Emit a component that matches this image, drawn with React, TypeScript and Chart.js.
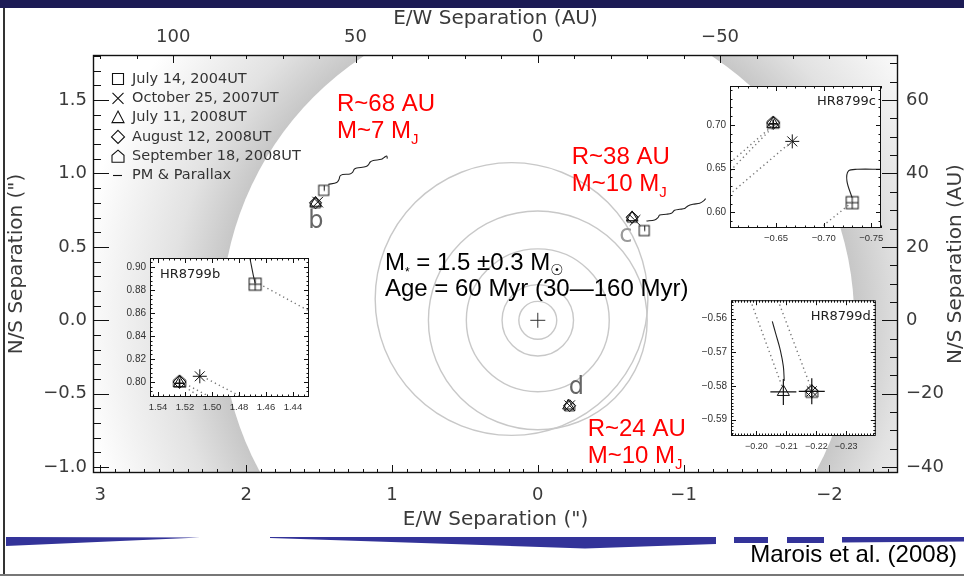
import React, { useEffect, useRef } from 'react';
import { Chart, registerables } from 'chart.js';

Chart.register(...registerables);

// ======================= DATA =======================
const AU_PER_ARCSEC = 40;

const epochLabels = ['July 14, 2004UT', 'October 25, 2007UT', 'July 11, 2008UT', 'August 12, 2008UT', 'September 18, 2008UT'];
const pmLabel = 'PM & Parallax';

const titleTop = 'E/W Separation (AU)';
const titleBottom = 'E/W Separation (")';
const titleLeft = 'N/S Separation (")';
const titleRight = 'N/S Separation (AU)';

// Planet offsets from HR 8799 per epoch (arcsec): x = E/W (east positive), y = N/S
const bX = [1.468, 1.509, 1.524, 1.524, 1.524];
const bY = [0.885, 0.805, 0.799, 0.800, 0.801];
const cX = [-0.730, -0.667, -0.647, -0.647, -0.647];
const cY = [0.611, 0.681, 0.701, 0.702, 0.703];
const dX = [NaN, -0.2185, -0.209, -0.2185, -0.2185];
const dY = [NaN, -0.5816, -0.5818, -0.5816, -0.5816];

// Background-star proper motion + parallax tracks (main panel)
const bPmX = [1.436, 1.379, 1.363, 1.356, 1.338, 1.288, 1.269, 1.258, 1.242, 1.178, 1.160, 1.149, 1.128, 1.073, 1.055, 1.036, 1.032];
const bPmY = [0.926, 0.938, 0.960, 0.983, 0.993, 0.997, 1.010, 1.029, 1.037, 1.047, 1.061, 1.078, 1.088, 1.097, 1.108, 1.119, 1.102];
const cPmX = [-0.745, -0.801, -0.824, -0.836, -0.881, -0.916, -0.938, -0.973, -1.007, -1.029, -1.064, -1.110, -1.137, -1.151];
const cPmY = [0.676, 0.683, 0.699, 0.717, 0.722, 0.729, 0.749, 0.756, 0.761, 0.779, 0.790, 0.797, 0.813, 0.829];

// Orbit circles (arcsec)
const orbitCenterX = [0, 0, 0, 0, 0.18];
const orbitCenterY = [0, 0, 0, 0, 0.145];
const orbitRadius = [0.13, 0.245, 0.49, 0.75, 0.935];
const maskRadius = 2.17;

// Main axis ranges (arcsec)
const mainXRange = [-2.47, 3.05];
const mainYRange = [-1.04, 1.807];

// Annotations
const sepTexts = ['R~68 AU', 'R~38 AU', 'R~24 AU'];
const massTexts = ['M~7 M', 'M~10 M', 'M~10 M'];
const annX = [1.377, -0.233, -0.342];
const sepY = [1.424, 1.063, -0.790];
const massY = [1.240, 0.879, -0.974];
const planetNames = ['b', 'c', 'd'];
const nameX = [1.521, -0.603, -0.265];
const nameY = [0.674, 0.579, -0.458];
const starMassText = ' = 1.5 \u00b10.3 M';
const ageText = 'Age = 60 Myr (30\u2014160 Myr)';
const starTextX = 1.048;
const starTextY = [0.341, 0.163];

// ---- Inset HR8799b
const bInsetXRange = [1.4281, 1.5459];
const bInsetYRange = [0.787, 0.9078];
const bTrackX = [1.4719, 1.4706, 1.4694, 1.4680];
const bTrackY = [0.9078, 0.9000, 0.8930, 0.8860];
const bDot1X = [1.4620, 1.4290]; const bDot1Y = [0.8834, 0.8624];
const bDot2X = [1.5039, 1.4780]; const bDot2Y = [0.8029, 0.7871];
const bDot3X = [1.5200, 1.5015]; const bDot3Y = [0.7986, 0.7871];
const bDot4X = [1.5200, 1.5089]; const bDot4Y = [0.7957, 0.7871];

// ---- Inset HR8799c
const cInsetXRange = [-0.7602, -0.6016];
const cInsetYRange = [0.582, 0.7443];
const cTrackX = [-0.7297, -0.7244, -0.7261, -0.7350, -0.7600];
const cTrackY = [0.6170, 0.6359, 0.6472, 0.6491, 0.6491];
const cDot1X = [-0.6455, -0.6016]; const cDot1Y = [0.6981, 0.6566];
const cDot2X = [-0.6490, -0.6016]; const cDot2Y = [0.7000, 0.6472];
const cDot3X = [-0.6665, -0.6016]; const cDot3Y = [0.6810, 0.6208];
const cDot4X = [-0.7297, -0.6998]; const cDot4Y = [0.6113, 0.5850];

// ---- Inset HR8799d
const dInsetXRange = [-0.2399, -0.1915];
const dInsetYRange = [-0.5949, -0.5545];
const dTrackX = [-0.2053, -0.2065, -0.2080, -0.2090, -0.2093];
const dTrackY = [-0.5608, -0.5646, -0.5694, -0.5742, -0.5785];
const dDot1X = [-0.1980, -0.2087]; const dDot1Y = [-0.5545, -0.5805];
const dDot2X = [-0.2072, -0.2180]; const dDot2Y = [-0.5545, -0.5800];

// ======================= HELPERS =======================
const AXIS_FONT = "'DejaVu Sans', sans-serif";
const ARIAL = "'Liberation Sans', Arial, sans-serif";

type Pt = { x: number; y: number };
const pts = (xs: number[], ys: number[]): Pt[] =>
  xs.map((x, i) => ({ x, y: ys[i] })).filter((p) => Number.isFinite(p.x) && Number.isFinite(p.y));

const fmtMinus = (s: string) => s.replace('-', '\u2212');

function pathHouse(g: CanvasRenderingContext2D, cx: number, cy: number, s: number) {
  const h = s / 2;
  g.beginPath();
  g.moveTo(cx, cy - h);
  g.lineTo(cx + h, cy - h * 0.15);
  g.lineTo(cx + h, cy + h);
  g.lineTo(cx - h, cy + h);
  g.lineTo(cx - h, cy - h * 0.15);
  g.closePath();
}

function makeIcon(size: number, draw: (g: CanvasRenderingContext2D, c: number) => void) {
  const cv = document.createElement('canvas');
  cv.width = size;
  cv.height = size;
  const g = cv.getContext('2d')!;
  g.strokeStyle = '#111';
  g.lineWidth = 1;
  draw(g, size / 2);
  return cv;
}
const houseIcon = (s: number) => makeIcon(s + 4, (g, c) => { pathHouse(g, c, c, s); g.stroke(); });
const squareTickIcon = (s: number) => makeIcon(s + 4, (g, c) => {
  g.strokeRect(c - s / 2, c - s / 2, s, s);
  g.beginPath(); g.moveTo(c + 0.5, c - s / 2); g.lineTo(c + 0.5, c + 0.5); g.stroke();
});
const squareCrossIcon = (s: number) => makeIcon(s + 4, (g, c) => {
  g.strokeRect(c - s / 2, c - s / 2, s, s);
  g.beginPath(); g.moveTo(c, c - s / 2); g.lineTo(c, c + s / 2); g.moveTo(c - s / 2, c); g.lineTo(c + s / 2, c); g.stroke();
});

function markerSet(xs: number[], ys: number[], styles: any[], radii: number[], width = 1) {
  return styles.map((st, i) => ({
    data: pts([xs[i]], [ys[i]]),
    pointStyle: st,
    pointRadius: radii[i],
    borderColor: '#111',
    backgroundColor: 'rgba(0,0,0,0)',
    borderWidth: width,
    showLine: false,
  }));
}

function lineDs(xs: number[], ys: number[], dotted: boolean, tension = 0.35) {
  return {
    data: pts(xs, ys),
    showLine: true,
    pointRadius: 0,
    borderColor: dotted ? '#777' : '#222',
    borderWidth: dotted ? 1.4 : 1.1,
    borderDash: dotted ? [1.3, 3.2] : [],
    tension,
  };
}

function crossDs(xs: number[], ys: number[], r: number, width = 1) {
  return { data: pts(xs, ys), pointStyle: 'cross', pointRadius: r, borderColor: '#111', borderWidth: width, showLine: false };
}

type TickSpec = { id: string; major: number; minor: number; majLen: number; minLen: number };
function tickPlugin(specs: TickSpec[], both: boolean) {
  return {
    id: 'innerTicks',
    afterDraw(chart: any) {
      const { ctx, chartArea: a } = chart;
      ctx.save();
      ctx.strokeStyle = '#111';
      ctx.lineWidth = 1;
      for (const s of specs) {
        const sc = chart.scales[s.id];
        if (!sc) continue;
        const lo = Math.min(sc.min, sc.max), hi = Math.max(sc.min, sc.max);
        const k0 = Math.ceil(lo / s.minor - 1e-9), k1 = Math.floor(hi / s.minor + 1e-9);
        ctx.beginPath();
        for (let k = k0; k <= k1; k++) {
          const v = k * s.minor;
          const r = v / s.major;
          const len = Math.abs(r - Math.round(r)) < 1e-6 ? s.majLen : s.minLen;
          const p = Math.round(sc.getPixelForValue(v)) + 0.5;
          if (sc.isHorizontal()) {
            const top = sc.position === 'top';
            if (!top || both) { ctx.moveTo(p, a.bottom); ctx.lineTo(p, a.bottom - len); }
            if (top || both) { ctx.moveTo(p, a.top); ctx.lineTo(p, a.top + len); }
          } else {
            const right = sc.position === 'right';
            if (!right || both) { ctx.moveTo(a.left, p); ctx.lineTo(a.left + len, p); }
            if (right || both) { ctx.moveTo(a.right, p); ctx.lineTo(a.right - len, p); }
          }
        }
        ctx.stroke();
      }
      ctx.restore();
    },
  };
}

function framePlugin(width: number, fillWhite: boolean) {
  return {
    id: 'frame',
    beforeDatasetsDraw(chart: any) {
      if (!fillWhite) return;
      const { ctx, chartArea: a } = chart;
      ctx.save();
      ctx.fillStyle = '#fff';
      ctx.fillRect(a.left, a.top, a.right - a.left, a.bottom - a.top);
      ctx.restore();
    },
    afterDraw(chart: any) {
      const { ctx, chartArea: a } = chart;
      ctx.save();
      ctx.strokeStyle = '#111';
      ctx.lineWidth = width;
      ctx.strokeRect(a.left + 0.5, a.top + 0.5, a.right - a.left - 1, a.bottom - a.top - 1);
      ctx.restore();
    },
  };
}

function drawParts(ctx: CanvasRenderingContext2D, x: number, y: number, parts: { t: string; font: string; dy: number }[]) {
  let cx = x;
  for (const p of parts) {
    ctx.font = p.font;
    ctx.fillText(p.t, cx, y + p.dy);
    cx += ctx.measureText(p.t).width;
  }
}

// ======================= MAIN CHART =======================
function mainChart(canvas: HTMLCanvasElement) {
  const mainStyles = [squareTickIcon(10), 'crossRot', 'triangle', 'rectRot', houseIcon(10)];
  const mainRadii = [5, 7.5, 6.5, 6, 5];
  const datasets: any[] = [
    ...mainStyles.map((st, i) => ({
      label: epochLabels[i],
      data: pts([bX[i], cX[i], dX[i]], [bY[i], cY[i], dY[i]]),
      pointStyle: st,
      pointRadius: mainRadii[i],
      borderColor: '#111',
      backgroundColor: 'rgba(0,0,0,0)',
      borderWidth: 1,
      showLine: false,
    })),
    { label: pmLabel, ...lineDs(bPmX, bPmY, false, 0.3) },
    { label: pmLabel, ...lineDs(cPmX, cPmY, false, 0.3) },
    { label: 'HR 8799', data: [{ x: 0, y: 0 }], pointStyle: 'cross', pointRadius: 7.5, borderColor: '#333', borderWidth: 1, showLine: false },
  ];

  const tickFont = { family: AXIS_FONT, size: 18 };
  const common = {
    type: 'linear',
    grid: { display: false, drawTicks: false },
    border: { display: false },
  };

  const bgPlugin = {
    id: 'bg',
    beforeDatasetsDraw(chart: any) {
      const { ctx, chartArea: a } = chart;
      const X = chart.scales.x, Y = chart.scales.y;
      const cx = X.getPixelForValue(0), cy = Y.getPixelForValue(0);
      const ppa = Math.abs(X.getPixelForValue(1) - cx);
      const rIn = maskRadius * ppa, rOut = (maskRadius + 1.0) * ppa;
      ctx.save();
      ctx.beginPath();
      ctx.rect(a.left, a.top, a.right - a.left, a.bottom - a.top);
      ctx.clip();
      const g = ctx.createRadialGradient(cx, cy, rIn, cx, cy, rOut);
      g.addColorStop(0, 'rgb(199,199,199)');
      g.addColorStop(0.35, 'rgb(226,226,226)');
      g.addColorStop(1, 'rgb(255,255,255)');
      ctx.fillStyle = g;
      ctx.fillRect(a.left, a.top, a.right - a.left, a.bottom - a.top);
      ctx.fillStyle = '#fff';
      ctx.beginPath();
      ctx.arc(cx, cy, rIn, 0, Math.PI * 2);
      ctx.fill();
      ctx.strokeStyle = '#c8c8c8';
      ctx.lineWidth = 1.4;
      orbitRadius.forEach((r, i) => {
        ctx.beginPath();
        ctx.arc(X.getPixelForValue(orbitCenterX[i]), Y.getPixelForValue(orbitCenterY[i]), r * ppa, 0, Math.PI * 2);
        ctx.stroke();
      });
      ctx.restore();
    },
  };

  const textPlugin = {
    id: 'texts',
    afterDatasetsDraw(chart: any) {
      const { ctx } = chart;
      const X = chart.scales.x, Y = chart.scales.y;
      ctx.save();
      ctx.textAlign = 'left';
      ctx.textBaseline = 'alphabetic';
      ctx.fillStyle = '#ff0000';
      for (let i = 0; i < sepTexts.length; i++) {
        const px = X.getPixelForValue(annX[i]);
        ctx.font = `24px ${ARIAL}`;
        ctx.fillText(sepTexts[i], px, Y.getPixelForValue(sepY[i]));
        drawParts(ctx, px, Y.getPixelForValue(massY[i]), [
          { t: massTexts[i], font: `24px ${ARIAL}`, dy: 0 },
          { t: 'J', font: `15px ${ARIAL}`, dy: 6 },
        ]);
      }
      ctx.fillStyle = '#000';
      const sx = X.getPixelForValue(starTextX);
      drawParts(ctx, sx, Y.getPixelForValue(starTextY[0]), [
        { t: 'M', font: `24px ${ARIAL}`, dy: 0 },
        { t: '*', font: `12px ${ARIAL}`, dy: 6 },
        { t: starMassText, font: `24px ${ARIAL}`, dy: 0 },
        { t: '\u2609', font: `15px ${AXIS_FONT}`, dy: 5 },
      ]);
      ctx.font = `24px ${ARIAL}`;
      ctx.fillText(ageText, sx, Y.getPixelForValue(starTextY[1]));
      ctx.textAlign = 'center';
      ctx.textBaseline = 'middle';
      ctx.font = `24px ${AXIS_FONT}`;
      const nameColors = ['#666', '#9a9a9a', '#666'];
      planetNames.forEach((n, i) => {
        ctx.fillStyle = nameColors[i];
        ctx.fillText(n, X.getPixelForValue(nameX[i]), Y.getPixelForValue(nameY[i]));
      });
      ctx.restore();
    },
  };

  const titlePlugin = {
    id: 'titles',
    afterDraw(chart: any) {
      const { ctx, chartArea: a } = chart;
      const mx = (a.left + a.right) / 2, my = (a.top + a.bottom) / 2;
      const setup = () => {
        ctx.fillStyle = '#3a3a3a';
        ctx.font = `20px ${AXIS_FONT}`;
        ctx.textAlign = 'center';
        ctx.textBaseline = 'middle';
      };
      ctx.save();
      setup();
      ctx.fillText(titleTop, mx, a.top - 36);
      ctx.fillText(titleBottom, mx, a.bottom + 47);
      ctx.translate(17, my);
      ctx.rotate(-Math.PI / 2);
      ctx.fillText(titleLeft, 0, 0);
      ctx.restore();
      ctx.save();
      setup();
      ctx.translate(956, my);
      ctx.rotate(-Math.PI / 2);
      ctx.fillText(titleRight, 0, 0);
      ctx.restore();
    },
  };

  const legendPlugin = {
    id: 'hrLegend',
    afterDraw(chart: any) {
      const { ctx, chartArea: a } = chart;
      const sx = a.left + 25, tx = a.left + 39, y0 = a.top + 24, dy = 19.3;
      ctx.save();
      ctx.strokeStyle = '#111';
      ctx.lineWidth = 1.1;
      const labels = [...epochLabels, pmLabel];
      labels.forEach((lab, i) => {
        const y = y0 + i * dy;
        ctx.beginPath();
        if (i === 0) ctx.rect(sx - 5.5, y - 5.5, 11, 11);
        if (i === 1) { ctx.moveTo(sx - 5.5, y - 5.5); ctx.lineTo(sx + 5.5, y + 5.5); ctx.moveTo(sx + 5.5, y - 5.5); ctx.lineTo(sx - 5.5, y + 5.5); }
        if (i === 2) { ctx.moveTo(sx, y - 6.5); ctx.lineTo(sx + 6, y + 5); ctx.lineTo(sx - 6, y + 5); ctx.closePath(); }
        if (i === 3) { ctx.moveTo(sx, y - 6.5); ctx.lineTo(sx + 6.5, y); ctx.lineTo(sx, y + 6.5); ctx.lineTo(sx - 6.5, y); ctx.closePath(); }
        if (i === 4) pathHouse(ctx, sx, y, 12);
        if (i === 5) { ctx.moveTo(sx - 5, y); ctx.lineTo(sx + 4, y); }
        ctx.stroke();
        ctx.fillStyle = '#333';
        ctx.font = `14.5px ${AXIS_FONT}`;
        ctx.textAlign = 'left';
        ctx.textBaseline = 'middle';
        ctx.fillText(lab, tx, y);
      });
      ctx.restore();
    },
  };

  return new Chart(canvas, {
    type: 'scatter',
    data: { datasets },
    options: {
      responsive: false,
      animation: false,
      devicePixelRatio: 1,
      events: [],
      layout: { padding: 0 },
      plugins: { legend: { display: false }, tooltip: { enabled: false } },
      scales: {
        x: {
          ...common, position: 'bottom', min: mainXRange[0], max: mainXRange[1], reverse: true,
          ticks: { stepSize: 1, includeBounds: false, autoSkip: false, maxRotation: 0, padding: 12, color: '#3a3a3a', font: tickFont, callback: (v: any) => fmtMinus(String(v)) },
          afterFit: (s: any) => { s.height = 103; },
        },
        xTop: {
          ...common, position: 'top', min: mainXRange[0] * AU_PER_ARCSEC, max: mainXRange[1] * AU_PER_ARCSEC, reverse: true,
          ticks: { stepSize: 50, includeBounds: false, autoSkip: false, maxRotation: 0, padding: 7, color: '#3a3a3a', font: tickFont, callback: (v: any) => fmtMinus(String(v)) },
          afterFit: (s: any) => { s.height = 55; },
        },
        y: {
          ...common, position: 'left', min: mainYRange[0], max: mainYRange[1],
          ticks: { stepSize: 0.5, includeBounds: false, autoSkip: false, padding: 6, color: '#3a3a3a', font: tickFont, callback: (v: any) => fmtMinus(Number(v).toFixed(1)) },
          afterFit: (s: any) => { s.width = 93; },
        },
        yRight: {
          ...common, position: 'right', min: mainYRange[0] * AU_PER_ARCSEC, max: mainYRange[1] * AU_PER_ARCSEC,
          ticks: { stepSize: 20, includeBounds: false, autoSkip: false, padding: 8, color: '#3a3a3a', font: tickFont, callback: (v: any) => fmtMinus(String(v)) },
          afterFit: (s: any) => { s.width = 66; },
        },
      },
    } as any,
    plugins: [
      bgPlugin,
      textPlugin,
      tickPlugin([
        { id: 'x', major: 1, minor: 0.1, majLen: 8, minLen: 4 },
        { id: 'xTop', major: 50, minor: 10, majLen: 8, minLen: 4 },
        { id: 'y', major: 0.5, minor: 0.1, majLen: 16, minLen: 8 },
        { id: 'yRight', major: 20, minor: 5, majLen: 16, minLen: 8 },
      ], false),
      framePlugin(1.4, false),
      titlePlugin,
      legendPlugin,
    ] as any,
  });
}

// ======================= INSETS =======================
type InsetOpts = {
  xr: number[]; yr: number[]; xStep: number; yStep: number; xMinor: number; yMinor: number;
  leftW: number; bottomH: number; padTop: number; padRight: number; xPad: number; xFont: number;
  title: string; titleRight: boolean; datasets: any[];
};

function insetChart(canvas: HTMLCanvasElement, o: InsetOpts) {
  const fy = { family: ARIAL, size: 10 };
  const fx = { family: ARIAL, size: o.xFont };
  const titlePl = {
    id: 'insetTitle',
    afterDraw(chart: any) {
      const { ctx, chartArea: a } = chart;
      ctx.save();
      ctx.fillStyle = '#222';
      ctx.font = `13px ${AXIS_FONT}`;
      ctx.textBaseline = 'middle';
      if (o.titleRight) { ctx.textAlign = 'right'; ctx.fillText(o.title, a.right - 5, a.top + 16); }
      else { ctx.textAlign = 'left'; ctx.fillText(o.title, a.left + 10, a.top + 17); }
      ctx.restore();
    },
  };
  return new Chart(canvas, {
    type: 'scatter',
    data: { datasets: o.datasets },
    options: {
      responsive: false,
      animation: false,
      devicePixelRatio: 1,
      events: [],
      layout: { padding: { top: o.padTop, right: o.padRight, left: 0, bottom: 0 } },
      plugins: { legend: { display: false }, tooltip: { enabled: false } },
      scales: {
        x: {
          type: 'linear', min: o.xr[0], max: o.xr[1], reverse: true,
          grid: { display: false, drawTicks: false }, border: { display: false },
          ticks: { stepSize: o.xStep, includeBounds: false, autoSkip: false, maxRotation: 0, padding: o.xPad, color: '#333', font: fx, callback: (v: any) => fmtMinus(Number(v).toFixed(2)) },
          afterFit: (s: any) => { s.height = o.bottomH; },
        },
        y: {
          type: 'linear', min: o.yr[0], max: o.yr[1],
          grid: { display: false, drawTicks: false }, border: { display: false },
          ticks: { stepSize: o.yStep, includeBounds: false, autoSkip: false, padding: 4, color: '#333', font: fy, callback: (v: any) => fmtMinus(Number(v).toFixed(2)) },
          afterFit: (s: any) => { s.width = o.leftW; },
        },
      },
    } as any,
    plugins: [
      framePlugin(1, true),
      tickPlugin([
        { id: 'x', major: o.xStep, minor: o.xMinor, majLen: 5, minLen: 2.5 },
        { id: 'y', major: o.yStep, minor: o.yMinor, majLen: 5, minLen: 2.5 },
      ], true),
      titlePl,
    ] as any,
  });
}

export default function App() {
  const mainRef = useRef<HTMLCanvasElement>(null);
  const bRef = useRef<HTMLCanvasElement>(null);
  const cRef = useRef<HTMLCanvasElement>(null);
  const dRef = useRef<HTMLCanvasElement>(null);

  useEffect(() => {
    const insetStyles = () => [squareCrossIcon(12), 'star', 'triangle', 'rectRot', houseIcon(12)];
    const insetRadii = [6, 7, 7, 6.5, 6];
    const charts: Chart[] = [];
    charts.push(mainChart(mainRef.current!));
    charts.push(insetChart(bRef.current!, {
      xr: bInsetXRange, yr: bInsetYRange, xStep: 0.02, yStep: 0.02, xMinor: 0.004, yMinor: 0.004,
      leftW: 40, bottomH: 26, padTop: 9, padRight: 11, xPad: 5, xFont: 9.5, title: 'HR8799b', titleRight: false,
      datasets: [
        lineDs(bTrackX, bTrackY, false),
        lineDs(bDot1X, bDot1Y, true), lineDs(bDot2X, bDot2Y, true), lineDs(bDot3X, bDot3Y, true), lineDs(bDot4X, bDot4Y, true),
        ...markerSet(bX, bY, insetStyles(), insetRadii),
        crossDs([bX[2]], [bY[2]], 4.5, 1.6),
      ],
    }));
    charts.push(insetChart(cRef.current!, {
      xr: cInsetXRange, yr: cInsetYRange, xStep: 0.05, yStep: 0.05, xMinor: 0.01, yMinor: 0.01,
      leftW: 40, bottomH: 20, padTop: 9, padRight: 9, xPad: 5, xFont: 9.5, title: 'HR8799c', titleRight: true,
      datasets: [
        lineDs(cTrackX, cTrackY, false),
        lineDs(cDot1X, cDot1Y, true), lineDs(cDot2X, cDot2Y, true), lineDs(cDot3X, cDot3Y, true), lineDs(cDot4X, cDot4Y, true),
        ...markerSet(cX, cY, insetStyles(), insetRadii),
        crossDs([cX[2]], [cY[2]], 4.5, 1.6),
      ],
    }));
    charts.push(insetChart(dRef.current!, {
      xr: dInsetXRange, yr: dInsetYRange, xStep: 0.01, yStep: 0.01, xMinor: 0.001, yMinor: 0.001,
      leftW: 41, bottomH: 22, padTop: 9, padRight: 9, xPad: 5, xFont: 9, title: 'HR8799d', titleRight: true,
      datasets: [
        lineDs(dTrackX, dTrackY, false),
        lineDs(dDot1X, dDot1Y, true), lineDs(dDot2X, dDot2Y, true),
        ...markerSet(dX, dY, insetStyles(), insetRadii),
        crossDs([dX[2], dX[3]], [dY[2], dY[3]], 13, 1.2),
      ],
    }));
    return () => charts.forEach((c) => c.destroy());
  }, []);

  return (
    <div style={{ position: 'fixed', left: 0, top: 0, width: 964, height: 576, background: '#fff', overflow: 'hidden' }}>
      <canvas ref={mainRef} width={964} height={576} style={{ position: 'absolute', left: 0, top: 0 }} />
      <canvas ref={bRef} width={210} height={175} style={{ position: 'absolute', left: 110, top: 248 }} />
      <canvas ref={cRef} width={200} height={172} style={{ position: 'absolute', left: 690, top: 76 }} />
      <canvas ref={dRef} width={200} height={172} style={{ position: 'absolute', left: 690, top: 286 }} />
      <div style={{ position: 'absolute', left: 0, top: 0, width: 964, height: 8, background: '#1c1b55' }} />
      <div style={{ position: 'absolute', left: 3, top: 8, width: 2, height: 568, background: '#333' }} />
      <div style={{ position: 'absolute', left: 0, top: 574, width: 964, height: 2, background: '#777' }} />
      <svg width={964} height={576} style={{ position: 'absolute', left: 0, top: 0, pointerEvents: 'none' }}>
        <polygon points="6,537 200,537.5 6,546" fill="#333399" />
        <polygon points="270,537 716,537 716,544 585,548.5 270,538" fill="#333399" />
        <polygon points="734,537 768,537 768,543 734,543" fill="#333399" />
        <polygon points="787,537 824,537 824,543 787,543" fill="#333399" />
        <polygon points="842,537 964,537 964,541.5 842,542.5" fill="#333399" />
      </svg>
      <div style={{ position: 'absolute', right: 7, top: 540, fontFamily: ARIAL, fontSize: 24, color: '#000', lineHeight: '28px', whiteSpace: 'nowrap' }}>
        Marois et al. (2008)
      </div>
    </div>
  );
}
